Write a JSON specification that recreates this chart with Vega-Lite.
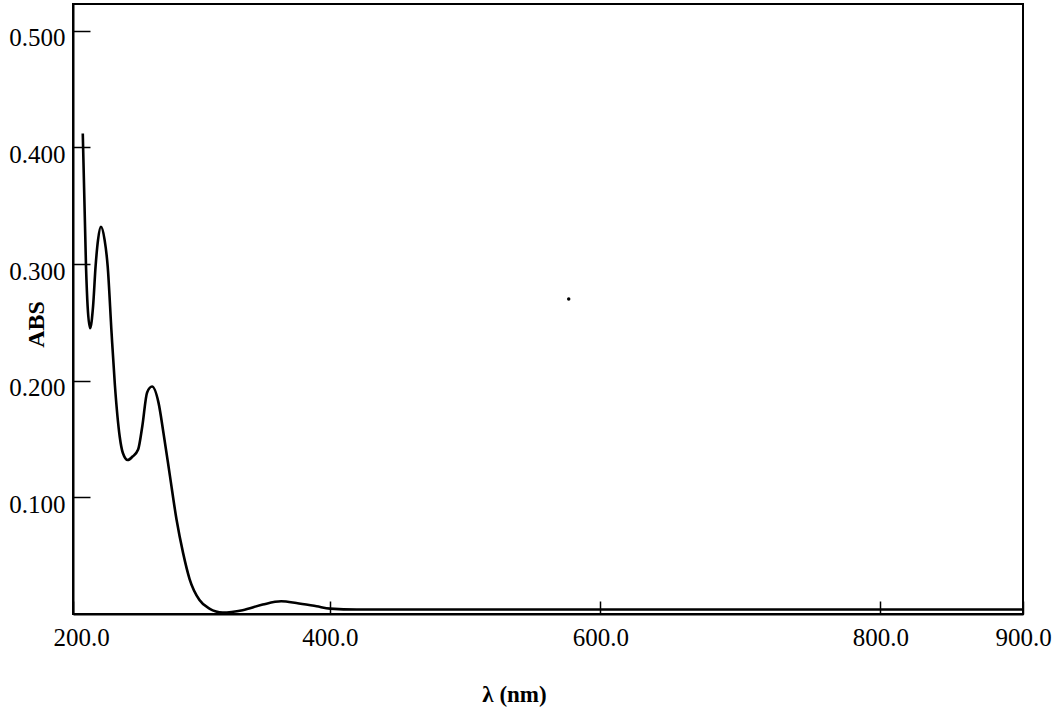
{
  "$schema": "https://vega.github.io/schema/vega-lite/v6.json",
  "width": 950,
  "height": 610,
  "autosize": {"type": "none"},
  "padding": {"left": 73, "top": 4, "right": 39, "bottom": 99},
  "background": "white",
  "config": {
    "view": {"stroke": "black", "strokeWidth": 2},
    "font": "Liberation Serif"
  },
  "layer": [
    {
      "data": {
        "values": [
          {"nm": 207.9, "abs": 0.412},
          {"nm": 210.5, "abs": 0.298},
          {"nm": 211.8, "abs": 0.264},
          {"nm": 213.8, "abs": 0.245},
          {"nm": 216.2, "abs": 0.264},
          {"nm": 218.2, "abs": 0.298},
          {"nm": 220.2, "abs": 0.321},
          {"nm": 222.5, "abs": 0.332},
          {"nm": 225.4, "abs": 0.321},
          {"nm": 227.9, "abs": 0.298},
          {"nm": 231.0, "abs": 0.241},
          {"nm": 233.6, "abs": 0.197},
          {"nm": 237.5, "abs": 0.152},
          {"nm": 240.0, "abs": 0.138},
          {"nm": 243.8, "abs": 0.132},
          {"nm": 247.7, "abs": 0.135},
          {"nm": 252.1, "abs": 0.141},
          {"nm": 255.4, "abs": 0.161},
          {"nm": 259.2, "abs": 0.190},
          {"nm": 263.1, "abs": 0.195},
          {"nm": 268.2, "abs": 0.181},
          {"nm": 272.1, "abs": 0.155},
          {"nm": 277.2, "abs": 0.118},
          {"nm": 282.3, "abs": 0.081},
          {"nm": 287.5, "abs": 0.052},
          {"nm": 292.5, "abs": 0.030},
          {"nm": 300.2, "abs": 0.012},
          {"nm": 307.9, "abs": 0.0046},
          {"nm": 318.2, "abs": 0.0012},
          {"nm": 333.6, "abs": 0.0033},
          {"nm": 349.0, "abs": 0.0081},
          {"nm": 363.1, "abs": 0.0109},
          {"nm": 374.6, "abs": 0.0095},
          {"nm": 390.0, "abs": 0.0066},
          {"nm": 400.2, "abs": 0.0046},
          {"nm": 420.3, "abs": 0.0038},
          {"nm": 500.0, "abs": 0.0038},
          {"nm": 600.0, "abs": 0.0038},
          {"nm": 700.0, "abs": 0.0038},
          {"nm": 800.0, "abs": 0.0038},
          {"nm": 900.0, "abs": 0.0038}
        ]
      },
      "mark": {"type": "line", "color": "black", "strokeWidth": 2.6, "interpolate": "monotone"},
      "encoding": {
        "x": {
          "field": "nm",
          "type": "quantitative",
          "scale": {"type": "pow", "exponent": 1.1, "domain": [200, 900], "nice": false, "zero": false},
          "axis": {
            "title": "λ (nm)",
            "values": [200, 400, 600, 800, 900],
            "format": ".1f",
            "grid": false,
            "domainColor": "black",
            "domainWidth": 2,
            "tickColor": "black",
            "tickWidth": 1.5,
            "tickSize": -13,
            "labelFont": "Liberation Serif",
            "labelFontSize": 25,
            "labelColor": "black",
            "labelPadding": 24,
            "labelFlush": false,
            "labelOverlap": false,
            "labelBound": false,
            "labelOffset": {"expr": "datum.value == 200 ? 8 : 0"},
            "titleFont": "Liberation Serif",
            "titleFontSize": 23,
            "titleFontWeight": "bold",
            "titleColor": "black",
            "titleX": 441,
            "titleY": 87,
            "titleAlign": "center",
            "titleBaseline": "alphabetic"
          }
        },
        "y": {
          "field": "abs",
          "type": "quantitative",
          "scale": {"domain": [0, 0.523], "nice": false},
          "axis": {
            "title": "ABS",
            "values": [0.1, 0.2, 0.3, 0.4, 0.5],
            "format": ".3f",
            "grid": false,
            "domainColor": "black",
            "domainWidth": 2,
            "tickColor": "black",
            "tickWidth": 1.5,
            "tickSize": -17,
            "labelFont": "Liberation Serif",
            "labelFontSize": 25,
            "labelColor": "black",
            "labelPadding": 25,
            "labelOffset": 7,
            "labelBaseline": "middle",
            "labelOverlap": false,
            "labelBound": false,
            "titleFont": "Liberation Serif",
            "titleFontSize": 24,
            "titleFontWeight": "bold",
            "titleColor": "black",
            "titleAngle": -90,
            "titleX": -30,
            "titleY": 320,
            "titleAlign": "center",
            "titleBaseline": "alphabetic"
          }
        }
      }
    },
    {
      "data": {"values": [{"nm": 577, "abs": 0.27}]},
      "mark": {"type": "point", "filled": true, "color": "black", "size": 12, "opacity": 1},
      "encoding": {
        "x": {"field": "nm", "type": "quantitative"},
        "y": {"field": "abs", "type": "quantitative"}
      }
    }
  ]
}
